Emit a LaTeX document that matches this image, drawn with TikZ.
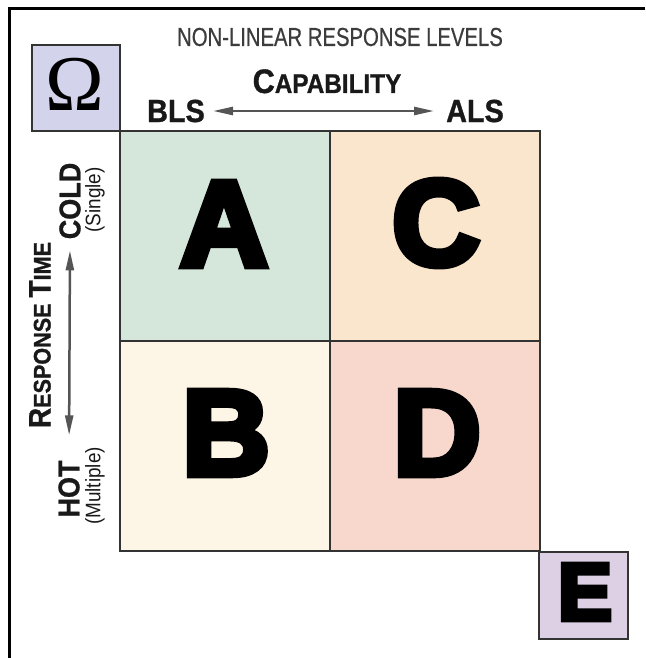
\documentclass[tikz,border=0pt]{standalone}
\usepackage{fontspec}
\setmainfont{Liberation Sans}
\newfontfamily\greekserif{Liberation Serif}
\newfontfamily\heavyfont{Liberation Sans Bold}[FakeBold=6]
\newfontfamily\condfont{Liberation Sans}[FakeStretch=0.78, FakeBold=0.6]
\newfontfamily\narrowfont{Liberation Sans}[FakeStretch=0.9]
\newfontfamily\narrowbold{Liberation Sans Bold}[FakeStretch=0.9, FakeBold=1]
\usetikzlibrary{arrows.meta}

\definecolor{cellA}{HTML}{D5E6DA}
\definecolor{cellB}{HTML}{FDF5E5}
\definecolor{cellC}{HTML}{FAE6CC}
\definecolor{cellD}{HTML}{F8D8CD}
\definecolor{omegafill}{HTML}{D3D3EB}
\definecolor{efill}{HTML}{DDD0E5}
\definecolor{gridline}{HTML}{333333}
\definecolor{arrowgray}{HTML}{555555}
\definecolor{titlegray}{HTML}{3C3C3C}

\newcommand{\fs}[1]{\fontsize{#1}{#1}\selectfont}

\tikzset{
  cell/.style={draw=gridline, line width=2pt, minimum width=210pt,
    minimum height=210pt, inner sep=0pt},
  corner/.style={draw=gridline, line width=2pt, inner sep=0pt},
  bigletter/.style={inner sep=0pt, font=\heavyfont\fs{121}},
  label/.style={inner sep=0pt, text=black!90},
  dblarrow/.style={draw=arrowgray, line width=2.5pt,
    {Triangle[length=20pt,width=8pt]}-{Triangle[length=20pt,width=8pt]}},
}

\begin{document}
\begin{tikzpicture}[x=1pt,y=-1pt]
\useasboundingbox (0,0) rectangle (645,658);

% outer frame (top and left sides only)
\draw[line width=3pt] (645,9) -- (9.5,9) -- (9.5,658);

% corner boxes
\node[corner, fill=omegafill, minimum width=88pt, minimum height=86pt]
  (omegabox) at (76,88) {};
\node[inner sep=0pt, font=\greekserif\fs{79}] (omega) at (75,84) {Ω};
\node[corner, fill=efill, minimum width=89pt, minimum height=87pt]
  (ebox) at (583.5,595.5) {};
\node[inner sep=0pt, font=\heavyfont\fs{81}] (eletter) at (585,592) {E};

% the 2x2 grid
\node[cell, fill=cellA] (cA) at (225,236) {};
\node[cell, fill=cellC] (cC) at (435,236) {};
\node[cell, fill=cellB] (cB) at (225,446) {};
\node[cell, fill=cellD] (cD) at (435,446) {};

\node[bigletter] (lA) at (224,224) {A};
\node[bigletter] (lC) at (436,223) {C};
\node[bigletter] (lB) at (226,433) {B};
\node[bigletter] (lD) at (437,433) {D};

% top labels
\node[inner sep=0pt, text=titlegray, font=\condfont\fs{26}] (title)
  at (340,37) {NON-LINEAR RESPONSE LEVELS};
\node[label, anchor=base, font=\narrowbold] (capab) at (327,93)
  {{\fs{34}C}{\fs{27}APABILITY}};
\node[label, font=\narrowbold\fs{32}] (bls) at (176,111) {BLS};
\node[label, font=\narrowbold\fs{32}] (als) at (475,111) {ALS};
\draw[dblarrow, shorten <=8pt, shorten >=12pt] (bls.east) -- (als.west);

% left labels
\node[label, rotate=90, font=\narrowbold\fs{30}] (cold) at (70,201) {COLD};
\node[label, rotate=90, font=\narrowfont\fs{21}] (single) at (95,200) {(Single)};
\node[label, rotate=90, font=\narrowbold] (resp) at (40,335)
  {{\fs{31}R}{\fs{24}ESPONSE }{\fs{31}T}{\fs{24}IME}};
\node[label, rotate=90, font=\narrowbold\fs{30}] (hot) at (69,489) {HOT};
\node[label, rotate=90, font=\narrowfont\fs{21}] (multiple) at (95,486) {(Multiple)};
\draw[dblarrow, shorten <=11pt, shorten >=25pt] (cold.west) -- (hot.east);
\end{tikzpicture}
\end{document}
